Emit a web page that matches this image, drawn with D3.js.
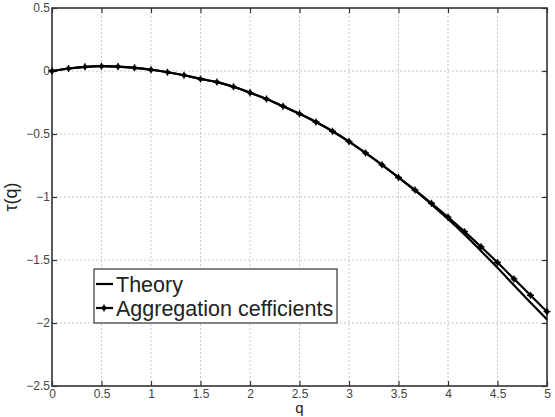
<!DOCTYPE html>
<html>
<head>
<meta charset="utf-8">
<script src="https://cdn.jsdelivr.net/npm/d3@7"></script>
<style>
  body { margin: 0; background: #fff; }
  svg text { font-family: "Liberation Sans", Arial, Helvetica, sans-serif; }
</style>
</head>
<body>
<svg id="chart" width="555" height="417"></svg>
<script>
// q grid used by both curves (step 1/6)
var qValues = d3.range(0, 31).map(function(i) { return i / 6; });

var aggregation = [0, 0.020, 0.033, 0.038, 0.035, 0.025, 0.010, -0.010, -0.034, -0.063,
	-0.088, -0.125, -0.172, -0.223, -0.280, -0.340, -0.405, -0.478, -0.560, -0.650,
	-0.745, -0.845, -0.945, -1.050, -1.160, -1.275, -1.395, -1.520, -1.650, -1.780, -1.910];

var theory = [0, 0.020, 0.033, 0.038, 0.035, 0.025, 0.010, -0.010, -0.034, -0.063,
	-0.088, -0.125, -0.172, -0.223, -0.280, -0.340, -0.405, -0.478, -0.560, -0.650,
	-0.745, -0.845, -0.948, -1.058, -1.175, -1.298, -1.428, -1.562, -1.700, -1.838, -1.972];

var xTicks = [0, 0.5, 1, 1.5, 2, 2.5, 3, 3.5, 4, 4.5, 5];
var yTicks = [0.5, 0, -0.5, -1, -1.5, -2, -2.5];
var legendLabels = ["Theory", "Aggregation cefficients"];

var margin = {top: 8, right: 8, bottom: 31, left: 52},
	width = 555 - margin.left - margin.right,
	height = 417 - margin.top - margin.bottom;

var svg = d3.select("#chart");
var g = svg.append("g")
	.attr("transform", "translate(" + margin.left + "," + margin.top + ")");

var x = d3.scaleLinear().domain([0, 5]).range([0, width]);
var y = d3.scaleLinear().domain([-2.5, 0.5]).range([height, 0]);

var fmt = function(d) { return String(d).replace("-", "\u2212"); };

// dotted grid
g.append("g").selectAll("line.gx")
	.data(xTicks.slice(1, -1))
	.enter().append("line")
	.attr("x1", function(d) { return x(d); })
	.attr("x2", function(d) { return x(d); })
	.attr("y1", 0).attr("y2", height)
	.attr("stroke", "#c8c8c8").attr("stroke-width", 1)
	.attr("stroke-dasharray", "2,2");

g.append("g").selectAll("line.gy")
	.data(yTicks.slice(1, -1))
	.enter().append("line")
	.attr("y1", function(d) { return y(d); })
	.attr("y2", function(d) { return y(d); })
	.attr("x1", 0).attr("x2", width)
	.attr("stroke", "#c8c8c8").attr("stroke-width", 1)
	.attr("stroke-dasharray", "2,2");

// axes, ticks pointing inward
var styleAxis = function(sel) {
	sel.select(".domain").remove();
	sel.selectAll(".tick line").attr("stroke", "#333").attr("stroke-width", 1.2);
	sel.selectAll(".tick text").attr("fill", "#444").attr("font-size", 12);
};

g.append("g")
	.attr("transform", "translate(0," + height + ")")
	.call(d3.axisBottom(x).tickValues(xTicks).tickSizeInner(-5).tickPadding(3).tickFormat(fmt))
	.call(styleAxis);

g.append("g")
	.call(d3.axisTop(x).tickValues(xTicks).tickSizeInner(-5).tickFormat(""))
	.call(styleAxis);

g.append("g")
	.call(d3.axisLeft(y).tickValues(yTicks).tickSizeInner(-5).tickPadding(2).tickFormat(fmt))
	.call(styleAxis);

g.append("g")
	.attr("transform", "translate(" + width + ",0)")
	.call(d3.axisRight(y).tickValues(yTicks).tickSizeInner(-5).tickFormat(""))
	.call(styleAxis);

// frame
g.append("rect")
	.attr("width", width).attr("height", height)
	.attr("fill", "none").attr("stroke", "#333").attr("stroke-width", 1.6);

var line = d3.line()
	.x(function(d, i) { return x(qValues[i]); })
	.y(function(d) { return y(d); })
	.curve(d3.curveMonotoneX);

g.append("path")
	.datum(theory)
	.attr("d", line)
	.attr("fill", "none").attr("stroke", "#000").attr("stroke-width", 2.2);

g.append("path")
	.datum(aggregation)
	.attr("d", line)
	.attr("fill", "none").attr("stroke", "#000").attr("stroke-width", 2.2);

var drawMarker = function(sel) {
	sel.append("circle").attr("r", 2.3).attr("fill", "#000");
	sel.append("path").attr("d", "M-3.5,0H3.5M0,-3.5V3.5")
		.attr("stroke", "#000").attr("stroke-width", 1.4);
};

g.append("g").selectAll("g.marker")
	.data(aggregation)
	.enter().append("g")
	.attr("class", "marker")
	.attr("transform", function(d, i) { return "translate(" + x(qValues[i]) + "," + y(d) + ")"; })
	.call(drawMarker);

// axis labels
svg.append("text")
	.attr("x", margin.left + x(2.5))
	.attr("y", 413)
	.attr("text-anchor", "middle")
	.attr("font-size", 15)
	.attr("fill", "#222")
	.text("q");

svg.append("text")
	.attr("transform", "translate(17," + (margin.top + height / 2) + ") rotate(-90)")
	.attr("text-anchor", "middle")
	.attr("font-size", 18)
	.attr("fill", "#222")
	.text("\u03c4(q)");

// legend
var legend = svg.append("g").attr("transform", "translate(94,269)");
legend.append("rect")
	.attr("width", 243).attr("height", 54)
	.attr("fill", "#fff").attr("stroke", "#333").attr("stroke-width", 1.2);

var items = legend.selectAll("g.item")
	.data(legendLabels)
	.enter().append("g")
	.attr("class", "item")
	.attr("transform", function(d, i) { return "translate(0," + (15 + i * 24) + ")"; });

items.append("line")
	.attr("x1", 2).attr("x2", 19)
	.attr("stroke", "#000").attr("stroke-width", 2.2);

items.filter(function(d, i) { return i === 1; })
	.append("g").attr("transform", "translate(10,0)")
	.call(drawMarker);

items.append("text")
	.attr("x", 22).attr("y", 8)
	.attr("font-size", 21.5)
	.attr("fill", "#222")
	.text(function(d) { return d; });
</script>
</body>
</html>
